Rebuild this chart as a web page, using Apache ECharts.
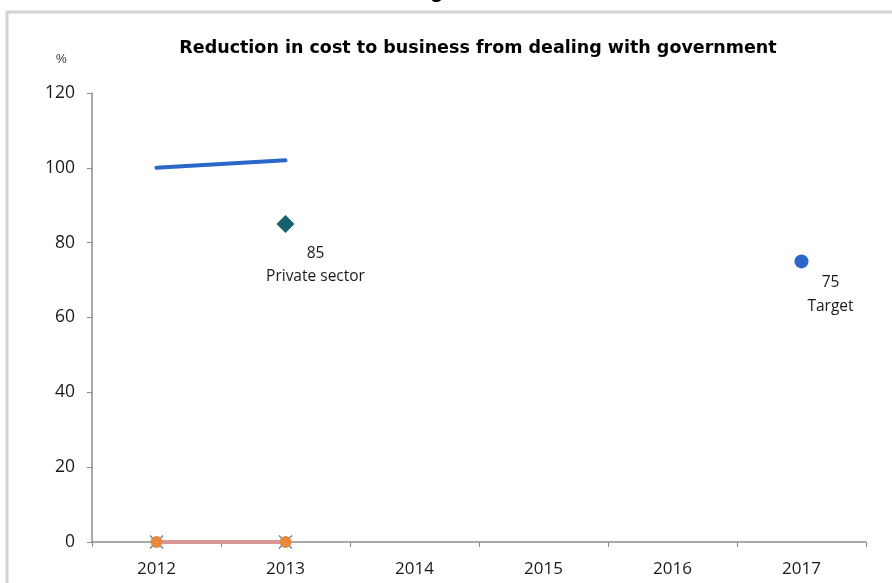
<!DOCTYPE html>
<html>
<head>
<meta charset="utf-8">
<script src="https://cdn.jsdelivr.net/npm/echarts@6/dist/echarts.min.js"></script>
<style>html,body{margin:0;padding:0;background:#fff;}#c{width:892px;height:583px;}</style>
</head>
<body>
<div id="c"></div>
<script>
var years = ['2012', '2013', '2014', '2015', '2016', '2017'];
var yTicks = [0, 20, 40, 60, 80, 100, 120];
var reductionLine = [100, 102, null, null, null, null];
var baselineLine = [0, 0, null, null, null, null];
var privateSector = [null, 85, null, null, null, null];
var target = [null, null, null, null, null, 75];
var privateLabel = 'Private sector';
var targetLabel = 'Target';

var chart = echarts.init(document.getElementById('c'), null, {renderer: 'canvas'});
var labelFont = '"Open Sans", sans-serif';
chart.setOption({
  animation: false,
  backgroundColor: '#ffffff',
  title: {
    text: 'Reduction in cost to business from dealing with government',
    left: 473, top: 34, textAlign: 'center',
    textStyle: {fontFamily: '"DejaVu Sans", sans-serif', fontWeight: 'bold', fontSize: 17.5, color: '#000'}
  },
  graphic: [
    {type: 'rect', shape: {x: 7, y: 12, width: 900, height: 600}, style: {fill: 'none', stroke: '#d2d2d2', lineWidth: 3}, silent: true},
    {type: 'text', left: 430, top: -20, style: {text: 'g', font: 'bold 22px "Liberation Sans", Arial, sans-serif', fill: '#000'}},
    {type: 'text', left: 56, top: 54, style: {text: '%', font: '12px "Liberation Sans", Arial, sans-serif', fill: '#333'}}
  ],
  grid: {left: 92, right: 26, top: 93, bottom: 41, containLabel: false},
  xAxis: {
    type: 'category', data: years, boundaryGap: true,
    axisLine: {lineStyle: {color: '#8c8c8c', width: 1.5}},
    axisTick: {show: true, alignWithLabel: false, length: 5, lineStyle: {color: '#8c8c8c'}},
    axisLabel: {fontFamily: labelFont, fontSize: 17, color: '#1a1a1a', margin: 19}
  },
  yAxis: {
    type: 'value', min: 0, max: 120, interval: 20,
    axisLine: {show: true, lineStyle: {color: '#8c8c8c', width: 1.5}},
    axisTick: {show: true, length: 5, lineStyle: {color: '#8c8c8c'}},
    splitLine: {show: false},
    axisLabel: {fontFamily: labelFont, fontSize: 17.5, color: '#1a1a1a', margin: 17,
      formatter: function (v) { return yTicks.indexOf(v) >= 0 ? String(v) : ''; }}
  },
  series: [
    {
      type: 'line', data: reductionLine, showSymbol: false, symbol: 'none',
      lineStyle: {color: '#2b67c9', width: 4, cap: 'round'}, z: 3
    },
    {
      type: 'line', data: baselineLine, symbol: 'path://M0,0L10,10M10,0L0,10', symbolSize: 13,
      itemStyle: {color: 'none', borderColor: '#4f81bd', borderWidth: 1.2},
      lineStyle: {width: 0, opacity: 0}, z: 2
    },
    {
      type: 'line', data: baselineLine, symbol: 'circle', symbolSize: 12,
      itemStyle: {color: '#e6893c'},
      lineStyle: {color: '#d99694', width: 4}, z: 4
    },
    {
      type: 'scatter', data: privateSector, symbol: 'diamond', symbolSize: [18, 18],
      itemStyle: {color: '#17606c', opacity: 1},
      label: {show: true, position: 'inside', offset: [30, 41], align: 'center', verticalAlign: 'middle',
        formatter: function (p) { return p.value + '\n' + privateLabel; },
        fontFamily: labelFont, fontSize: 15.5, lineHeight: 23, color: '#1a1a1a'}
    },
    {
      type: 'scatter', data: target, symbol: 'circle', symbolSize: 14,
      itemStyle: {color: '#2b67c9', opacity: 1},
      label: {show: true, position: 'inside', offset: [29, 33], align: 'center', verticalAlign: 'middle',
        formatter: function (p) { return p.value + '\n' + targetLabel; },
        fontFamily: labelFont, fontSize: 15.5, lineHeight: 24, color: '#1a1a1a'}
    }
  ]
});
</script>
</body>
</html>
